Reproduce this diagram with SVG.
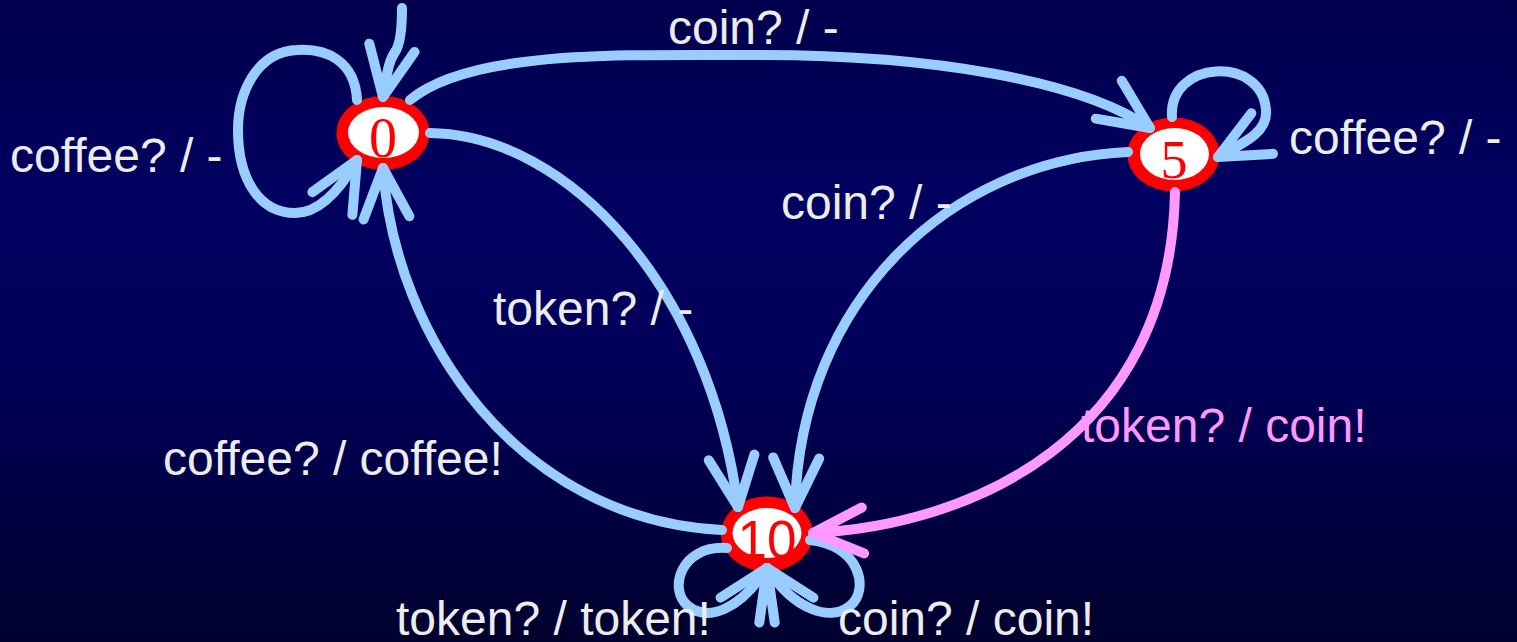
<svg xmlns="http://www.w3.org/2000/svg" width="1517" height="642" viewBox="0 0 1517 642">
<style>
.e{fill:none;stroke:#99ccff;stroke-width:10;stroke-linecap:round;stroke-linejoin:round}
.p{stroke:#ff99ff}
.lbl{font-family:"Liberation Sans",Arial,sans-serif;font-size:48px;fill:#ececec}
.pk{fill:#ff99ff}
.ring{fill:#ff0000}
.in{fill:#ffffff}
.num{font-family:"Liberation Serif","Times New Roman",serif;font-size:56px;fill:#ff0000;text-anchor:middle}
.num2{font-family:"Liberation Sans",Arial,sans-serif;font-size:53px;fill:#ff0000;text-anchor:middle}
</style>
<defs>
<linearGradient id="bg" x1="0" y1="0" x2="0" y2="1">
<stop offset="0" stop-color="#00004c"/>
<stop offset="0.3" stop-color="#000060"/>
<stop offset="0.55" stop-color="#00005a"/>
<stop offset="1" stop-color="#00002e"/>
</linearGradient>
<marker id="ah" markerUnits="userSpaceOnUse" orient="auto" markerWidth="1" markerHeight="1" refX="0" refY="0" overflow="visible">
<path d="M -50 -23 L 0 0 L -50 23" fill="none" stroke="#99ccff" stroke-width="10" stroke-linecap="round" stroke-linejoin="round"/>
</marker>
<marker id="ahp" markerUnits="userSpaceOnUse" orient="auto" markerWidth="1" markerHeight="1" refX="0" refY="0" overflow="visible">
<path d="M -50 -23 L 0 0 L -50 23" fill="none" stroke="#ff99ff" stroke-width="10" stroke-linecap="round" stroke-linejoin="round"/>
</marker>
</defs>
<rect x="0" y="0" width="1517" height="642" fill="url(#bg)"/>

<g id="node-0">
<ellipse class="ring" cx="383" cy="133" rx="46.5" ry="37"/>
<ellipse class="in" cx="383.5" cy="132.5" rx="35.5" ry="25.5"/>
<text class="num" x="383" y="157">0</text>
</g>
<g id="node-5">
<ellipse class="ring" cx="1173.5" cy="154.5" rx="46" ry="37"/>
<ellipse class="in" cx="1174.5" cy="154" rx="34.5" ry="26"/>
<text class="num" x="1174" y="178" style="font-size:54px">5</text>
</g>
<g id="node-10">
<ellipse class="ring" cx="767" cy="534" rx="46" ry="37.5"/>
<ellipse class="in" cx="767" cy="533" rx="34.5" ry="25"/>
<text class="num2" x="767" y="558">10</text>
</g>

<g id="connectors">
<path class="e" marker-end="url(#ah)" d="M 402 8 C 402 30 400 45 395 52 C 388 62 387 75 383 97"/>
<path class="e" marker-end="url(#ah)" d="M 357 100 C 355 60 325 48 297 50 C 255 52 238 95 238 130 C 238 180 260 213 295 213 C 320 213 340 190 357 160"/>
<path class="e" marker-end="url(#ah)" d="M 410 100 C 470 50 620 55 760 55 C 930 55 1080 80 1150 128"/>
<path class="e" marker-end="url(#ah)" d="M 430 133 C 570 135 710 290 738 507"/>
<path class="e" marker-end="url(#ah)" d="M 722 530 C 520 520 395 340 383 168"/>
<path class="e" marker-end="url(#ah)" d="M 1128 152 C 950 160 800 300 795 508"/>
<path class="e" marker-end="url(#ah)" d="M 1172 117 C 1168 60 1262 55 1266 110 C 1268 130 1250 140 1218 157"/>
<path class="e" marker-end="url(#ah)" d="M 727 548 C 680 545 668 590 688 606 C 708 622 740 610 767 568"/>
<path class="e" marker-end="url(#ah)" d="M 810 540 C 860 545 870 590 850 606 C 830 622 794 610 767 568"/>
<path class="e p" marker-end="url(#ahp)" d="M 1175 192 C 1170 440 970 525 813 533"/>
</g>

<g id="labels">
<text class="lbl" x="668" y="44">coin? / -</text>
<text class="lbl" x="10" y="172">coffee? / -</text>
<text class="lbl" x="1289" y="154">coffee? / -</text>
<text class="lbl" x="781" y="219">coin? / -</text>
<text class="lbl" x="493" y="325">token? / -</text>
<text class="lbl pk" x="1081" y="442">token? / coin!</text>
<text class="lbl" x="163" y="475">coffee? / coffee!</text>
<text class="lbl" x="396" y="635">token? / token!</text>
<text class="lbl" x="838" y="635">coin? / coin!</text>
</g>
</svg>
